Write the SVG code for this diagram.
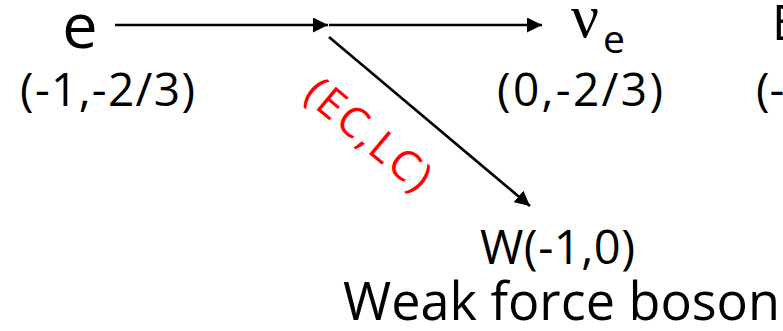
<svg xmlns="http://www.w3.org/2000/svg" width="783" height="331" viewBox="0 0 783 331">
<style>
  .t { font-family: "Open Sans", Lato, "Liberation Sans", sans-serif; fill: #000; }
  .red { font-family: "Open Sans", Lato, "Liberation Sans", sans-serif; fill: #FF0000; }
  .conn { stroke: #000; stroke-width: 2.7; fill: none; }
</style>
<defs>
  <marker id="arrow" markerUnits="userSpaceOnUse" markerWidth="16" markerHeight="15" refX="15" refY="7.5" orient="auto">
    <path d="M0,0 L15,7.5 L0,15 Z" fill="#000"/>
  </marker>
</defs>
<rect width="783" height="331" fill="#fff"/>
<g id="connectors">
  <line class="conn" x1="115" y1="25" x2="328" y2="25" marker-end="url(#arrow)"/>
  <line class="conn" x1="329" y1="25" x2="542" y2="25" marker-end="url(#arrow)"/>
  <line class="conn" x1="329" y1="37" x2="530" y2="206" marker-end="url(#arrow)"/>
</g>
<g id="node-e">
  <text class="t" x="80" y="48" font-size="63" text-anchor="middle">e</text>
  <text class="t" x="20" y="106" font-size="46" textLength="175" lengthAdjust="spacing">(-1,-2/3)</text>
</g>
<g id="node-nue">
  <text x="571" y="37" font-size="62" font-family="'Liberation Serif', serif" fill="#000">ν</text>
  <text class="t" x="603" y="53" font-size="39">e</text>
  <text class="t" x="497" y="106" font-size="46" textLength="166" lengthAdjust="spacing">(0,-2/3)</text>
</g>
<g id="node-E">
  <text class="t" x="772" y="40" font-size="49">E</text>
  <text class="t" x="756" y="106" font-size="46">(-</text>
</g>
<g id="node-W">
  <text class="t" x="480" y="264" font-size="47" textLength="155" lengthAdjust="spacing">W(-1,0)</text>
  <text class="t" x="343" y="320" font-size="53" textLength="437" lengthAdjust="spacingAndGlyphs">Weak force boson</text>
</g>
<g id="label-ec-lc">
  <text class="red" x="369" y="149" font-size="42" text-anchor="middle" textLength="150" lengthAdjust="spacing" transform="rotate(40 369 134)">(EC,LC)</text>
</g>
</svg>
